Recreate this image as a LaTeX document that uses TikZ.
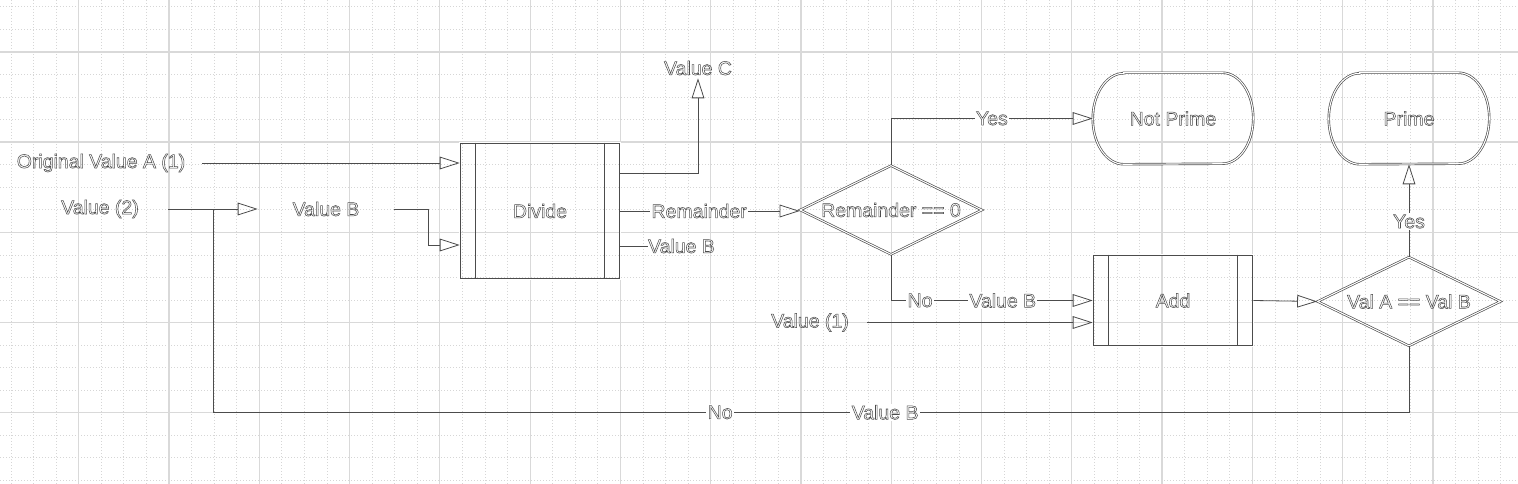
\documentclass[tikz,border=0pt]{standalone}
\usepackage{fontspec}
\setmainfont{Liberation Sans}
\usepackage{tikz}
\usetikzlibrary{calc,arrows.meta,shapes.geometric}

\newcommand\dfont{\fontsize{14.6}{17}\selectfont}

\tikzset{
  gridminor/.style={gray!32, line width=0.6pt, dash pattern=on 0.75pt off 1.5pt},
  gridmajor/.style={gray!30, line width=0.9pt},
  every node/.style={font=\dfont, text=black!70,
    execute at begin node={\special{pdf:literal direct 1 Tr 0.4 w}},
    execute at end node={\special{pdf:literal direct 0 Tr}}},
  txt/.style={inner sep=0pt, minimum height=15pt},
  lbl/.style={fill=white, inner sep=1pt},
  shp/.style={draw=black!70, line width=0.5pt, double=white, double distance=0.8pt},
  proc/.style={rectangle, inner sep=0pt},
  term/.style={rectangle, inner sep=0pt, minimum width=120pt, minimum height=68.25pt},
  dec/.style={shp, diamond, aspect=2, inner sep=0pt},
  line/.style={draw=black!70, line width=0.6pt},
  arr/.style={line, -{Triangle[open, length=15pt, width=9.5pt]}}
}

\begin{document}
\begin{tikzpicture}[x=0.75pt, y=-0.75pt]
    \fill[white] (0,0) rectangle (1518,484);
    \useasboundingbox (0,0) rectangle (1518,484);
    \foreach \gx in {0,...,67}
             {
               \draw[gridminor] (11+22.57*\gx,0) -- (11+22.57*\gx,484);
             }
    \foreach \gy in {0,...,21}
             {
               \draw[gridminor] (0,6.9+22.55*\gy) -- (1518,6.9+22.55*\gy);
             }
    \foreach \gx in {0,...,16}
             {
               \draw[gridmajor] (78.7+90.28*\gx,0) -- (78.7+90.28*\gx,484);
             }
    \foreach \gy in {0,...,4}
             {
               \draw[gridmajor] (0,52+90.1*\gy) -- (1518,52+90.1*\gy);
             }

    \node[txt, minimum width=151.5pt] (origA) at (101,163) {Original Value A (1)};
    \node[txt, minimum width=102pt] (val2) at (100,209) {Value (2)};
    \node[txt, minimum width=102pt] (valB1) at (326,209) {Value B};
    \node[proc, minimum width=120pt, minimum height=102pt] (divide) at (540,211) {Divide};
    \node[txt] (valC) at (698,68) {Value C};
    \node[txt] (valB2) at (681.5,246) {Value B};
    \node[dec, minimum width=136.5pt, minimum height=66.75pt] (rem) at (891,210) {Remainder == 0};
    \node[term] (notprime) at (1173,118.5) {Not Prime};
    \node[proc, minimum width=120pt, minimum height=68.25pt] (add) at (1173,300.5) {Add};
    \node[txt, minimum width=85.5pt] (val1) at (810,322.5) {Value (1)};
    \node[dec, minimum width=137.25pt, minimum height=66.75pt] (valeq) at (1409,301.5) {Val A == Val B};
    \node[term] (prime) at (1409,118.5) {Prime};
    \coordinate (loopend) at (213,209);

    \foreach \n in {divide,add}
             {
               \draw[shp] (\n.north west) rectangle (\n.south east);
               \draw[line] ([xshift=12pt]\n.north west) -- ([xshift=12pt]\n.south west);
               \draw[line] ([xshift=-12pt]\n.north east) -- ([xshift=-12pt]\n.south east);
             }
    \foreach \n in {notprime,prime}
             {
               \draw[shp] ([xshift=23.25pt]\n.north west) -- ([xshift=-23.25pt]\n.north east)
                  arc[start angle=90, end angle=-90, x radius=23.25pt, y radius=34.125pt]
                  -- ([xshift=23.25pt]\n.south west)
                  arc[start angle=270, end angle=90, x radius=23.25pt, y radius=34.125pt] -- cycle;
             }

    \draw[arr] (origA.east) -- (origA.east -| divide.west);
    \draw[arr] (val2.east) -- (valB1.west);
    \draw[arr] (valB1.east) -- ++(34,0) |- ($(divide.west)+(0,34)$);
    \draw[arr] ($(divide.east)+(0,-38)$) -| (valC.south);
    \draw[arr] (divide.east) -- node[lbl, pos=0.44] {Remainder} (divide.east -| rem.west);
    \draw[line] (divide.east |- valB2) -- (valB2.west);
    \draw[arr] (rem.north) |- node[lbl, pos=0.75] {Yes} (notprime.west);
    \draw[arr] (rem.south) |- node[lbl, pos=0.572] {No} node[lbl, pos=0.777] {Value B} (add.west);
    \draw[arr] (val1.east) -- (val1.east -| add.west);
    \draw[arr] (add.east) -- (valeq.west);
    \draw[arr] (valeq.north) -- node[lbl, pos=0.38] {Yes} (prime.south);
    \draw[line] (valeq.south) -- ++(0,66) -| node[lbl, pos=0.288] {No} node[lbl, pos=0.219] {Value B} (loopend);
\end{tikzpicture}
\end{document}
